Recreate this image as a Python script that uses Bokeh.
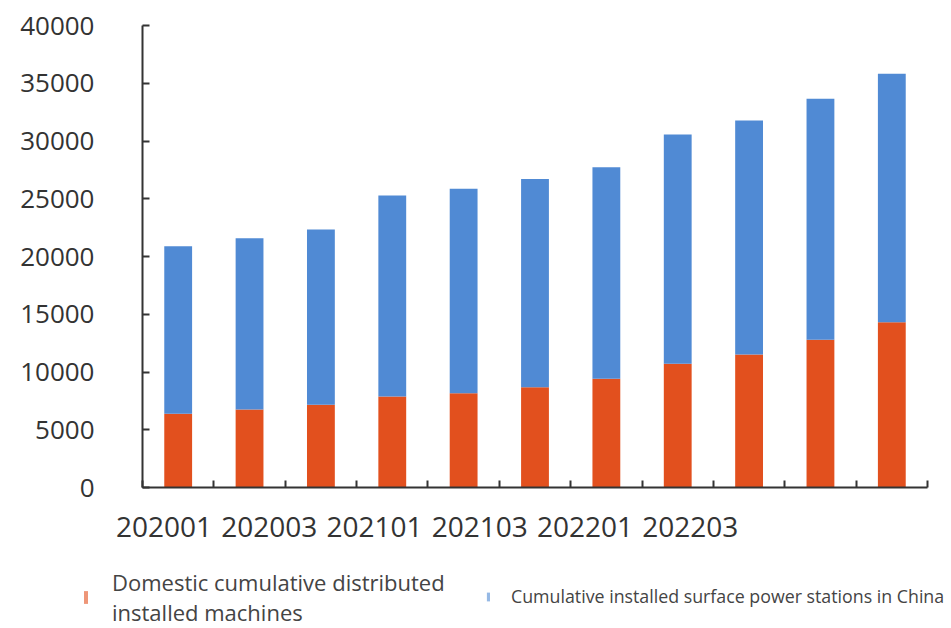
import numpy as np
from bokeh.plotting import figure
from bokeh.layouts import column
from bokeh.models import (Range1d, FixedTicker, Legend, LegendItem, ColumnDataSource)
from bokeh.embed import file_html
from bokeh.resources import INLINE

# ---- data ----
quarters = ["202001", "202002", "202003", "202004", "202101", "202102",
            "202103", "202104", "202201", "202202", "202203"]
tick_labels = ["202001", "202003", "202101", "202103", "202201", "202203"]
distributed = [6380, 6750, 7160, 7880, 8170, 8680, 9410, 10710, 11520, 12790, 14310]
surface = [14510, 14830, 15180, 17400, 17690, 18020, 18320, 19850, 20260, 20860, 21510]
series_names = ["Domestic cumulative distributed\ninstalled machines",
                "Cumulative installed surface power stations in China"]
y_ticks = [0, 5000, 10000, 15000, 20000, 25000, 30000, 35000, 40000]

RED = "#E2501E"
BLUE = "#508AD4"
FONT = "Open Sans"

n = len(quarters)
source = ColumnDataSource(dict(
    x=np.arange(n) + 0.5,
    distributed=distributed,
    surface=surface,
))

p = figure(width=951, height=560, x_range=Range1d(0, n), y_range=Range1d(0, 40000),
           output_backend="svg", toolbar_location=None,
           min_border_left=142, min_border_right=24, min_border_top=25, min_border_bottom=73)
p.frame_align = False

p.vbar_stack(["distributed", "surface"], x="x", width=0.39, source=source,
             color=[RED, BLUE], line_color=None)

p.grid.visible = False
p.outline_line_color = None
p.background_fill_color = "white"
p.border_fill_color = "white"

# x axis
xa = p.xaxis[0]
label_pos = [round(0.3 + 1.475 * i, 3) for i in range(len(tick_labels))]
xa.ticker = FixedTicker(ticks=label_pos, minor_ticks=list(range(0, n + 1)))
xa.major_label_overrides = {pos: lab for pos, lab in zip(label_pos, tick_labels)}
xa.major_tick_line_color = None
xa.minor_tick_in = 7
xa.minor_tick_out = 0
xa.minor_tick_line_color = "#333333"
xa.minor_tick_line_width = 2
xa.axis_line_color = "#333333"
xa.axis_line_width = 2
xa.major_label_text_font = FONT
xa.major_label_text_font_size = "28px"
xa.major_label_text_color = "#333333"
xa.major_label_standoff = 23

# y axis
ya = p.yaxis[0]
ya.ticker = FixedTicker(ticks=y_ticks)
ya.major_tick_in = 7
ya.major_tick_out = 0
ya.minor_tick_line_color = None
ya.major_tick_line_color = "#333333"
ya.major_tick_line_width = 2
ya.axis_line_color = "#333333"
ya.axis_line_width = 2
ya.major_label_text_font = FONT
ya.major_label_text_font_size = "26px"
ya.major_label_text_color = "#333333"
ya.major_label_standoff = 48

# ---- legend strip below the chart ----
lg = figure(width=951, height=68, x_range=Range1d(0, 1), y_range=Range1d(0, 1),
            output_backend="svg", toolbar_location=None,
            min_border=0, x_axis_type=None, y_axis_type=None)
lg.frame_align = False
lg.grid.visible = False
lg.outline_line_color = None
lg.background_fill_color = "white"
lg.border_fill_color = "white"

# swatch renderers (kept outside the visible range; used only for the legend glyphs)
sw_src = ColumnDataSource(dict(x=[-5], top=[0]))
sw_red = lg.vbar(x="x", top="top", width=0.4, source=sw_src, fill_color=RED,
                 fill_alpha=0.6, line_color=None)
sw_blue = lg.vbar(x="x", top="top", width=0.4, source=sw_src, fill_color=BLUE,
                  fill_alpha=0.6, line_color=None)

common = dict(padding=0, margin=0, border_line_color=None, background_fill_alpha=0,
              label_text_font=FONT, label_text_color="#444444", spacing=0)

leg1 = Legend(items=[LegendItem(label=series_names[0], renderers=[sw_red])],
              location=(83, 1), glyph_width=5, glyph_height=16, label_standoff=24,
              label_text_font_size="22px", label_text_line_height=1.2, **common)
leg2 = Legend(items=[LegendItem(label=series_names[1], renderers=[sw_blue])],
              location=(486, 20), glyph_width=4, glyph_height=11, label_standoff=21,
              label_text_font_size="17.8px", **common)
lg.add_layout(leg1, "center")
lg.add_layout(leg2, "center")

layout = column(p, lg, spacing=0)
open("out.html", "w").write(file_html(layout, INLINE))
